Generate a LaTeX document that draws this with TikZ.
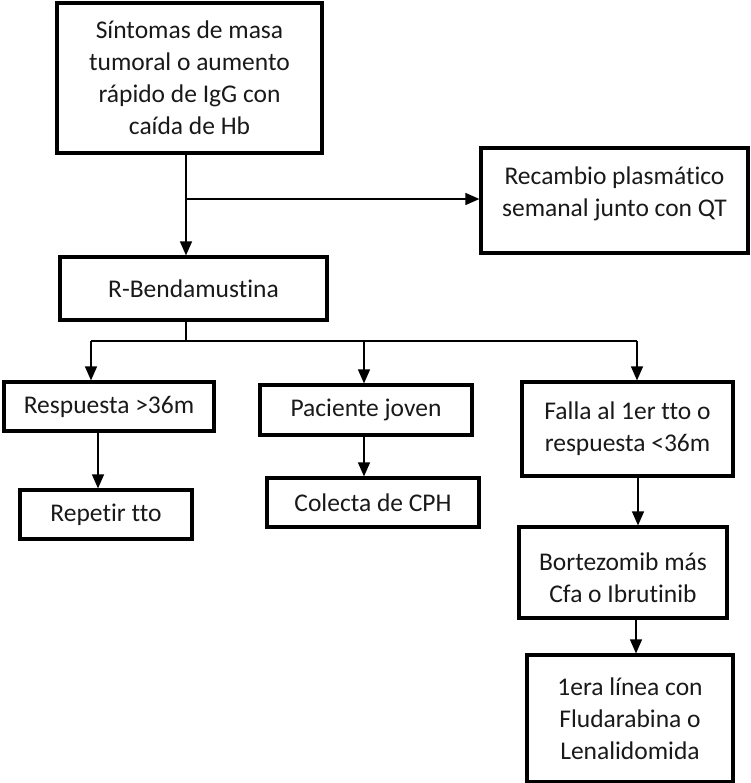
\documentclass[tikz,border=0pt]{standalone}
\usepackage{fontspec}
\setmainfont[RawFeature={-liga;-clig;-dlig}]{Carlito}
\usetikzlibrary{arrows.meta,calc}
\definecolor{txt}{RGB}{25,25,25}
\tikzset{
  box/.style={draw=black, line width=3.2pt, inner sep=0pt, align=center, text=txt,
    font=\fontsize{25.5}{32}\selectfont},
  conn/.style={draw=black, line width=1.4pt},
  arr/.style={conn, -{Triangle[length=14pt,width=12pt]}}
}
\begin{document}
\begin{tikzpicture}[x=1pt,y=-1pt]
\useasboundingbox (0,0) rectangle (750,783);
\node[box, minimum width=265pt, minimum height=150pt] (b1) at (189.5,78) {Síntomas de masa\\tumoral o aumento\\rápido de IgG con\\caída de Hb};
\node[box, minimum width=267pt, minimum height=105pt] (rec) at (614.5,200.5) {Recambio plasmático\\semanal junto con QT\\[-14pt]};
\node[box, minimum width=267pt, minimum height=63pt] (rb) at (193.5,288.5) {R-Bendamustina};
\node[box, minimum width=210pt, minimum height=49pt] (resp) at (109,406.5) {Respuesta >36m};
\node[box, minimum width=212pt, minimum height=50pt] (pac) at (366,410) {Paciente joven};
\node[box, minimum width=211pt, minimum height=94pt] (falla) at (627.5,429) {Falla al 1er tto o\\respuesta <36m};
\node[box, minimum width=172pt, minimum height=49pt] (rep) at (106,514.5) {Repetir tto};
\node[box, minimum width=212pt, minimum height=49pt] (col) at (373,502.5) {Colecta de CPH};
\node[box, minimum width=208pt, minimum height=91pt] (bort) at (623,572.5) {\\[-4pt]Bortezomib más\\Cfa o Ibrutinib};
\node[box, minimum width=206pt, minimum height=127pt] (last) at (630,718.5) {1era línea con\\Fludarabina o\\Lenalidomida};

\coordinate (j1) at (186,199);
\coordinate (j2) at (186,341);
\coordinate (ja) at (91,341);
\coordinate (jb) at (364,341);
\coordinate (jc) at (637,341);
\coordinate (xr) at (98,0);
\coordinate (xf) at (638,0);
\coordinate (xb) at (636,0);

\draw[arr] (b1.south -| j1) -- (rb.north -| j1);
\draw[arr] (j1) -- (j1 -| rec.west);
\draw[conn] (rb.south -| j2) -- (j2);
\draw[conn] (ja) -- (jc);
\draw[arr] (ja) -- (ja |- resp.north);
\draw[arr] (jb) -- (jb |- pac.north);
\draw[arr] (jc) -- (jc |- falla.north);
\draw[arr] (resp.south -| xr) -- (rep.north -| xr);
\draw[arr] (pac.south -| jb) -- (col.north -| jb);
\draw[arr] (falla.south -| xf) -- (bort.north -| xf);
\draw[arr] (bort.south -| xb) -- (last.north -| xb);
\end{tikzpicture}
\end{document}
